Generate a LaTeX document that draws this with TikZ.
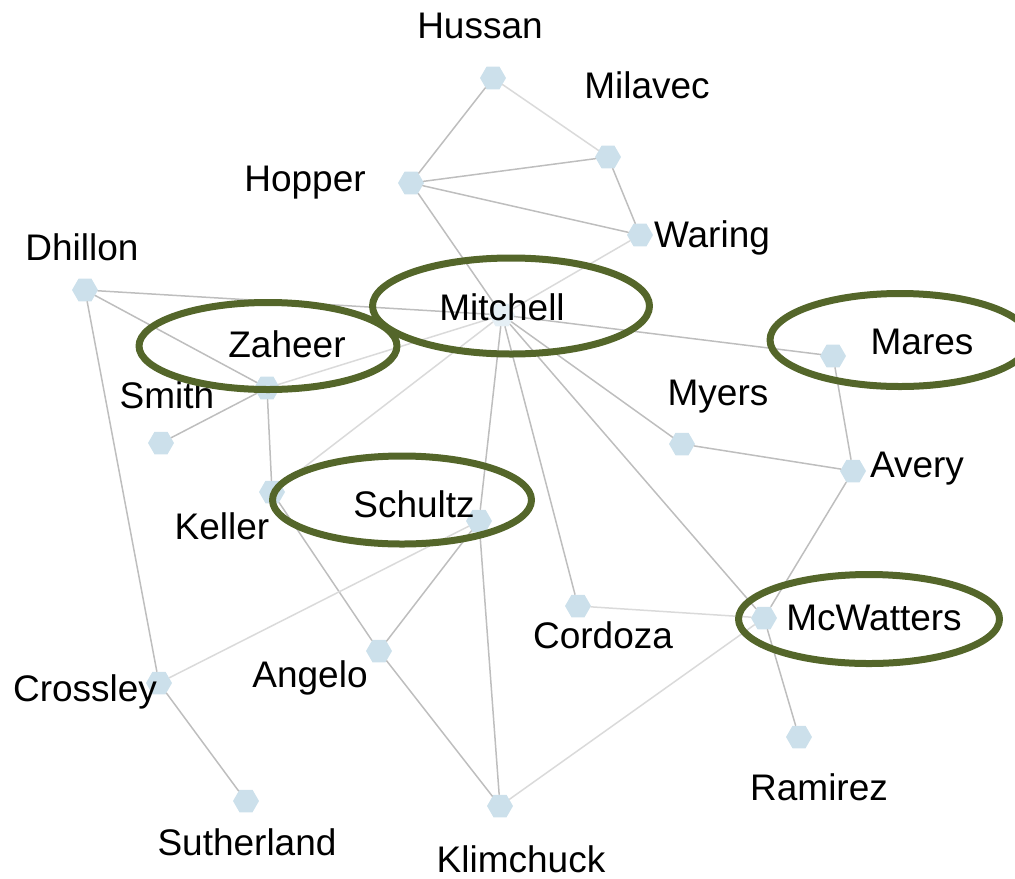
\documentclass[tikz,border=0pt]{standalone}
\usepackage{fontspec}
\setmainfont{Liberation Sans}
\usetikzlibrary{shapes.geometric}
\definecolor{dotblue}{RGB}{204,224,235}
\definecolor{edgegray}{RGB}{190,190,190}
\definecolor{edgelight}{RGB}{218,218,218}
\definecolor{ringgreen}{RGB}{84,102,42}
\begin{document}
\begin{tikzpicture}[x=0.5pt,y=-0.5pt,line join=round,line cap=round]
\tikzset{
  person/.style={regular polygon,regular polygon sides=6,fill=dotblue,inner sep=0pt,minimum size=13pt},
  persontag/.style={anchor=base,inner sep=0pt,font=\fontsize{18.5}{22}\selectfont},
  edge/.style={draw=edgegray,line width=0.75pt},
  faint/.style={draw=edgelight,line width=0.75pt},
  ring/.style={draw=ringgreen,line width=3.5pt}
}
\useasboundingbox (0,0) rectangle (1015,878);
% people
\node[person] (Hussan) at (493,78) {};
\node[person] (Milavec) at (608,157) {};
\node[person] (Hopper) at (411,183) {};
\node[person] (Waring) at (640,235) {};
\node[person] (Dhillon) at (85,290) {};
\node[person,fill opacity=0.5] (Mitchell) at (502,315) {};
\node[person] (Zaheer) at (267,388) {};
\node[person] (Smith) at (161,443) {};
\node[person] (Keller) at (272,492) {};
\node[person] (Schultz) at (479,521) {};
\node[person] (Angelo) at (379,651) {};
\node[person] (Cordoza) at (578,606) {};
\node[person] (Crossley) at (159,683) {};
\node[person] (Sutherland) at (246,801) {};
\node[person] (Klimchuck) at (500,806) {};
\node[person] (McWatters) at (764,618) {};
\node[person] (Ramirez) at (799,737) {};
\node[person] (Mares) at (833,356) {};
\node[person] (Myers) at (682,444) {};
\node[person] (Avery) at (853,471) {};
% ties
\draw[edge] (Hussan) -- (Hopper);
\draw[faint] (Hussan) -- (Milavec);
\draw[edge] (Hopper) -- (Milavec);
\draw[edge] (Hopper) -- (Waring);
\draw[edge] (Milavec) -- (Waring);
\draw[edge] (Hopper) -- (Mitchell);
\draw[faint] (Waring) -- (Mitchell);
\draw[edge] (Dhillon) -- (Mitchell);
\draw[edge] (Dhillon) -- (Zaheer);
\draw[edge] (Dhillon) -- (Crossley);
\draw[edge] (Zaheer) -- (Smith);
\draw[edge] (Zaheer) -- (Keller);
\draw[faint] (Zaheer) -- (Mitchell);
\draw[faint] (Keller) -- (Mitchell);
\draw[edge] (Mitchell) -- (Mares);
\draw[edge] (Mitchell) -- (Myers);
\draw[edge] (Mitchell) -- (Schultz);
\draw[edge] (Mitchell) -- (Cordoza);
\draw[edge] (Mitchell) -- (McWatters);
\draw[edge] (Myers) -- (Avery);
\draw[edge] (Mares) -- (Avery);
\draw[edge] (Avery) -- (McWatters);
\draw[faint] (Cordoza) -- (McWatters);
\draw[edge] (McWatters) -- (Ramirez);
\draw[faint] (McWatters) -- (Klimchuck);
\draw[edge] (Keller) -- (Angelo);
\draw[edge] (Schultz) -- (Angelo);
\draw[faint] (Schultz) -- (Crossley);
\draw[edge] (Schultz) -- (Klimchuck);
\draw[edge] (Angelo) -- (Klimchuck);
\draw[edge] (Crossley) -- (Sutherland);
% names
\node[persontag] (lHussan) at (480,38) {Hussan};
\node[persontag] (lMilavec) at (647,98) {Milavec};
\node[persontag] (lHopper) at (305,191) {Hopper};
\node[persontag] (lWaring) at (712,247) {Waring};
\node[persontag] (lDhillon) at (82,260) {Dhillon};
\node[persontag] (lMitchell) at (502,320) {Mitchell};
\node[persontag] (lZaheer) at (287,357) {Zaheer};
\node[persontag] (lSmith) at (167,408) {Smith};
\node[persontag] (lKeller) at (222,539) {Keller};
\node[persontag] (lSchultz) at (414,517) {Schultz};
\node[persontag] (lAngelo) at (310,687) {Angelo};
\node[persontag] (lCordoza) at (603,648) {Cordoza};
\node[persontag] (lCrossley) at (85,701) {Crossley};
\node[persontag] (lSutherland) at (247,855) {Sutherland};
\node[persontag] (lKlimchuck) at (521,872) {Klimchuck};
\node[persontag] (lMcWatters) at (874,630) {McWatters};
\node[persontag] (lRamirez) at (819,800) {Ramirez};
\node[persontag] (lMares) at (922,354) {Mares};
\node[persontag] (lMyers) at (718,405) {Myers};
\node[persontag] (lAvery) at (917,477) {Avery};
% highlighted
\draw[ring] (268,346) ellipse [x radius=64.5pt, y radius=21.75pt];
\draw[ring] (511,306) ellipse [x radius=69.25pt, y radius=24pt];
\draw[ring] (900,340) ellipse [x radius=65pt, y radius=23.25pt];
\draw[ring] (402,500) ellipse [x radius=64.75pt, y radius=22pt];
\draw[ring] (869,619) ellipse [x radius=65.25pt, y radius=22.25pt];
\end{tikzpicture}
\end{document}
